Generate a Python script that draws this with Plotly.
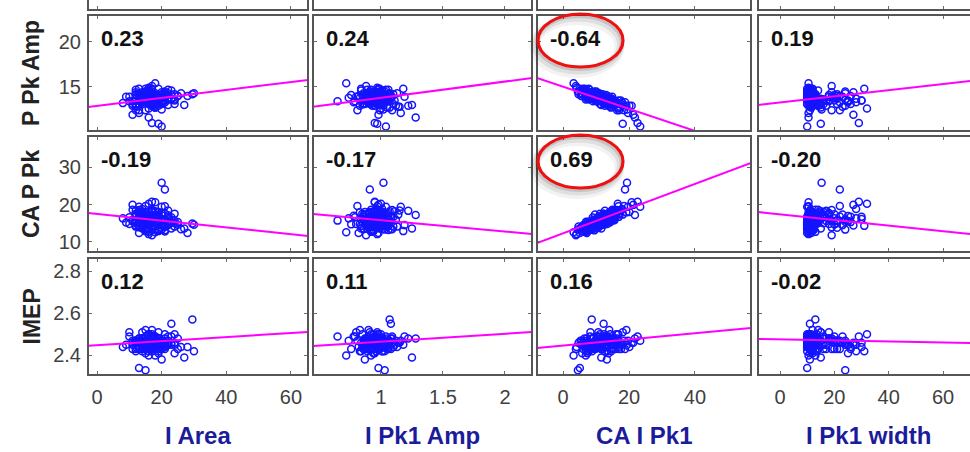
import plotly.graph_objects as go

# ---------------------------------------------------------------- data
x_names = ["I Area", "I Pk1 Amp", "CA I Pk1", "I Pk1 width"]
y_names = ["P Pk Amp", "CA P Pk", "IMEP"]

# one value per engine cycle
i_area = [
    22, 13, 18, 16, 11, 29.5, 24, 14, 19, 10,
    15, 20, 12, 17, 25, 9, 18, 13, 21, 16,
    12, 23, 15, 19, 14, 20, 11, 26, 17, 15,
    18, 11, 21, 16, 24, 13, 19, 17, 22, 12,
    23, 16, 19, 14, 17, 21, 10, 18, 21, 13,
    19, 14, 22, 16, 8, 17, 13, 20, 15, 27,
    17, 12, 15, 21, 14, 18, 24, 20, 28, 16,
    13, 19, 16, 14, 19, 22, 17, 11, 15, 18,
    20, 15, 12, 18, 23, 16, 14, 25, 20, 17,
    14, 21, 17, 15, 12, 19, 16, 24, 13, 30,
    15, 19, 13, 17, 21, 14, 18, 12, 20, 16,
    18, 14, 16, 22, 13, 19, 15, 17, 20, 12,
    16, 21, 14, 18, 15, 13, 19, 17, 23, 14,
    20, 13, 17, 15, 18, 16, 12, 21, 14, 19,
    13, 17, 19, 16, 14, 22, 18, 15, 17, 20,
    17, 15, 12, 19, 21, 14, 16, 18, 13, 22,
]
i_pk1_amp = [
    0.92, 1.05, 0.88, 0.97, 1.12, 1.07, 0.85, 1.01, 0.94, 0.79,
    0.99, 0.90, 1.15, 0.83, 0.96, 1.03, 0.72, 1.09, 0.93, 0.87,
    1.01, 0.95, 0.81, 1.18, 0.91, 1.06, 0.98, 0.86, 1.22, 0.94,
    0.89, 1.04, 0.97, 0.76, 1.10, 0.93, 1.02, 0.84, 0.99, 1.14,
    1.08, 0.92, 0.87, 1.00, 0.95, 1.13, 0.80, 1.05, 0.91, 0.98,
    0.96, 0.83, 1.07, 0.94, 1.01, 0.88, 1.16, 0.97, 0.90, 1.25,
    1.03, 0.86, 0.99, 0.91, 1.11, 0.65, 0.95, 1.04, 0.82, 1.00,
    0.93, 1.08, 0.89, 1.02, 0.97, 0.74, 1.06, 0.92, 1.19, 0.95,
    0.87, 1.00, 0.94, 1.10, 0.84, 0.98, 1.05, 0.90, 1.02, 0.96,
    1.06, 0.91, 0.78, 1.03, 0.99, 0.95, 1.28, 1.00, 0.88, 1.01,
    0.95, 0.88, 1.02, 0.91, 0.98, 1.06, 0.86, 0.99, 0.93, 1.04,
    0.90, 0.97, 1.01, 0.87, 0.94, 1.08, 0.96, 0.92, 1.00, 0.85,
    0.98, 0.93, 0.89, 1.05, 0.96, 0.91, 1.03, 0.97, 0.88, 0.99,
    1.02, 0.94, 0.90, 0.97, 1.07, 0.86, 0.95, 1.00, 0.92, 1.04,
    0.91, 1.01, 0.96, 0.89, 0.99, 0.94, 1.09, 0.87, 0.97, 0.93,
    0.97, 0.92, 1.04, 0.95, 0.88, 1.00, 0.93, 1.06, 0.90, 0.98,
]
ca_i_pk1 = [
    6.2, 9.8, 12.5, 4.1, 15.3, 8.7, 11.2, 17.9, 7.4, 13.6,
    10.1, 5.3, 14.8, 19.2, 8.1, 12.0, 3.2, 16.4, 9.5, 11.8,
    7.0, 13.1, 18.5, 6.6, 10.7, 15.9, 21.3, 8.9, 12.7, 5.8,
    14.2, 9.1, 16.8, 11.5, 4.7, 13.9, 20.1, 7.8, 10.4, 17.2,
    12.3, 6.9, 15.1, 9.7, 22.6, 11.0, 8.3, 14.5, 18.8, 5.1,
    10.9, 13.4, 7.6, 16.1, 12.9, 3.9, 19.7, 9.3, 14.0, 11.6,
    8.5, 15.6, 6.1, 12.2, 17.5, 10.3, 13.8, 23.4, 7.2, 16.6,
    11.4, 9.0, 14.6, 5.5, 18.1, 12.6, 8.0, 15.0, 10.6, 20.8,
    13.3, 7.9, 11.9, 16.9, 6.4, 14.3, 9.6, 12.1, 19.4, 8.8,
    15.4, 10.0, 13.0, 4.5, 17.0, 11.3, 21.8, 9.2, 14.9, 7.5,
    8.0, 11.0, 13.5, 9.5, 12.0, 6.8, 14.5, 10.5, 7.5, 12.8,
    9.9, 13.0, 7.2, 11.7, 15.0, 8.6, 10.8, 12.4, 16.2, 9.0,
    11.3, 6.0, 13.8, 10.2, 8.4, 14.1, 12.6, 5.6, 11.1, 15.7,
    7.7, 10.6, 12.9, 9.4, 16.8, 11.8, 8.9, 13.4, 6.5, 10.0,
    12.2, 9.1, 14.9, 7.0, 11.5, 13.2, 8.2, 10.4, 17.6, 12.5,
    9.7, 11.9, 6.3, 14.4, 10.9, 8.7, 13.6, 12.0, 7.9, 15.5,
]
i_pk1_width = [
    11, 12, 18, 10.5, 24, 13, 11.5, 28, 12, 16,
    10, 21, 11, 14, 26, 12.5, 10.5, 19, 11, 30,
    13, 10, 22, 11.5, 15, 12, 27, 10, 17, 11,
    12, 25, 10.5, 20, 11, 14, 12, 31, 10, 23,
    11, 13, 16, 10.5, 29, 12, 18, 11.5, 22, 10,
    14, 10, 24, 11, 12.5, 19, 10.5, 27, 12, 15,
    10.5, 21, 12, 11, 17, 13, 25, 10, 11.5, 32,
    12, 11, 28, 10, 15, 20, 11.5, 13, 23, 10.5,
    11, 16, 10.5, 26, 12, 13.5, 21, 10, 15.3, 11.5,
    18, 10, 12.5, 24, 11, 30, 10.5, 14, 19, 12,
    10.5, 11, 12, 10, 13, 11.5, 16, 10.5, 12.5, 20,
    11, 10, 14, 11.5, 10.5, 12, 22, 10, 13, 11,
    12, 10.5, 11, 18, 10, 11.5, 13.5, 10.5, 24, 12,
    10, 12.5, 11, 10.5, 15, 11, 10, 12, 19, 10.5,
    11.5, 10, 13, 10.5, 21, 11, 12, 10, 14, 11.5,
    10.5, 17, 11, 12, 10, 11.5, 25, 10.5, 12.5, 11,
]
p_pk_amp = [
    14.7, 13.5, 14.1, 14.9, 12.9, 14.2, 13.1, 13.3, 14.0, 13.4,
    14.5, 14.2, 12.8, 12.9, 14.0, 13.9, 15.4, 12.4, 14.5, 13.5,
    13.8, 14.1, 12.4, 14.8, 13.7, 13.4, 11.9, 14.3, 12.9, 14.2,
    13.6, 13.4, 13.5, 14.1, 14.2, 12.9, 12.9, 14.8, 13.6, 12.8,
    13.7, 13.6, 13.6, 14.1, 11.0, 14.3, 13.9, 12.7, 13.3, 14.8,
    13.4, 13.8, 14.3, 13.3, 13.2, 15.1, 12.1, 14.4, 13.9, 13.0,
    13.8, 13.1, 14.8, 13.8, 13.5, 13.4, 13.5, 10.6, 14.0, 12.6,
    14.0, 13.9, 13.7, 14.0, 10.9, 13.8, 14.7, 13.1, 13.9, 12.9,
    13.1, 13.6, 14.2, 13.1, 14.6, 13.2, 13.7, 14.0, 12.5, 14.4,
    13.5, 14.1, 13.3, 14.5, 12.4, 13.5, 11.6, 13.6, 13.9, 14.3,
    14.4, 13.5, 13.6, 13.6, 14.0, 14.2, 13.1, 14.1, 13.7, 13.5,
    14.3, 13.1, 14.6, 13.6, 13.6, 13.8, 14.0, 13.1, 13.1, 14.1,
    14.2, 14.2, 13.6, 13.4, 14.4, 13.1, 13.7, 14.7, 13.6, 13.4,
    13.8, 13.9, 13.8, 13.9, 12.7, 13.9, 14.4, 13.3, 14.4, 13.6,
    13.5, 14.2, 13.2, 14.7, 14.0, 13.7, 13.9, 13.5, 13.1, 13.3,
    13.9, 13.5, 14.7, 13.6, 13.9, 13.7, 13.3, 13.9, 14.3, 13.0,
]
ca_p_pk = [
    14.5, 14.1, 17.3, 12.1, 15.9, 14.9, 17.5, 18.8, 13.1, 16.6,
    13.6, 13.8, 18.4, 17.9, 15.3, 15.2, 12.6, 18.5, 13.1, 16.1,
    15.4, 15.2, 19.6, 12.9, 16.1, 17.1, 19.9, 13.4, 18.3, 12.9,
    15.2, 15.5, 19.5, 14.7, 14.1, 17.1, 18.0, 14.3, 14.8, 17.3,
    16.6, 12.7, 18.0, 17.3, 20.7, 14.1, 14.8, 16.6, 24.0, 12.4,
    15.7, 14.8, 15.4, 18.2, 16.3, 11.8, 19.4, 14.4, 17.7, 13.6,
    14.2, 15.8, 13.7, 17.6, 18.2, 15.7, 15.6, 19.4, 12.4, 20.2,
    16.5, 16.5, 16.3, 13.6, 17.3, 16.3, 13.2, 18.6, 14.5, 20.6,
    15.9, 15.0, 16.8, 16.7, 13.6, 17.3, 15.0, 14.6, 25.8, 14.1,
    17.7, 14.1, 17.0, 13.3, 17.5, 16.7, 17.2, 15.0, 15.7, 14.6,
    15.0, 14.8, 17.4, 15.1, 14.7, 14.2, 17.2, 15.0, 13.3, 17.4,
    14.1, 16.8, 15.1, 15.3, 17.9, 13.4, 16.8, 15.7, 17.7, 15.3,
    15.7, 12.8, 15.3, 16.2, 14.4, 18.0, 15.2, 13.8, 15.9, 16.4,
    15.0, 13.9, 16.6, 15.4, 18.2, 16.7, 14.1, 15.8, 13.9, 15.2,
    16.5, 15.9, 16.6, 13.5, 15.7, 17.1, 13.4, 15.9, 18.6, 14.6,
    15.3, 15.6, 14.4, 17.0, 14.4, 15.6, 16.9, 15.1, 14.5, 18.4,
]
imep = [
    2.46, 2.43, 2.48, 2.44, 2.47, 2.57, 2.50, 2.45, 2.41, 2.49,
    2.44, 2.47, 2.46, 2.52, 2.43, 2.45, 2.40, 2.48, 2.46, 2.44,
    2.42, 2.49, 2.47, 2.45, 2.51, 2.43, 2.46, 2.44, 2.48, 2.41,
    2.47, 2.45, 2.50, 2.43, 2.46, 2.48, 2.44, 2.42, 2.49, 2.46,
    2.55, 2.40, 2.48, 2.47, 2.49, 2.44, 2.51, 2.46, 2.43, 2.34,
    2.48, 2.42, 2.46, 2.50, 2.44, 2.43, 2.47, 2.45, 2.52, 2.39,
    2.44, 2.47, 2.43, 2.46, 2.45, 2.49, 2.41, 2.47, 2.44, 2.50,
    2.46, 2.48, 2.42, 2.45, 2.51, 2.47, 2.44, 2.43, 2.49, 2.46,
    2.38, 2.45, 2.47, 2.44, 2.46, 2.50, 2.43, 2.48, 2.45, 2.42,
    2.47, 2.44, 2.49, 2.33, 2.43, 2.46, 2.48, 2.45, 2.47, 2.42,
    2.45, 2.47, 2.44, 2.46, 2.48, 2.45, 2.43, 2.47, 2.46, 2.49,
    2.46, 2.44, 2.48, 2.45, 2.47, 2.43, 2.46, 2.50, 2.45, 2.44,
    2.47, 2.45, 2.46, 2.48, 2.44, 2.46, 2.42, 2.47, 2.45, 2.48,
    2.44, 2.46, 2.49, 2.45, 2.47, 2.43, 2.46, 2.45, 2.48, 2.44,
    2.46, 2.48, 2.45, 2.44, 2.47, 2.45, 2.49, 2.46, 2.43, 2.47,
    2.45, 2.43, 2.47, 2.46, 2.44, 2.48, 2.45, 2.47, 2.46, 2.45,
]

x_data = [i_area, i_pk1_amp, ca_i_pk1, i_pk1_width]
y_data = [p_pk_amp, ca_p_pk, imep]

# correlation coefficients printed in each panel
r_values = [
    [0.23, 0.24, -0.64, 0.19],
    [-0.19, -0.17, 0.69, -0.20],
    [0.12, 0.11, 0.16, -0.02],
]
# least-squares fit (y = intercept + slope * x) for each panel
fit_slope = [
    [0.044, 1.82, -0.123, 0.0342],
    [-0.090, -3.02, 0.329, -0.0753],
    [0.000955, 0.0374, 0.00146, -0.00024],
]
fit_intercept = [
    [12.90, 11.96, 15.03, 13.28],
    [17.48, 18.84, 12.33, 17.39],
    [2.449, 2.428, 2.447, 2.476],
]
# panels whose coefficient is circled
highlighted = [(0, 2), (1, 2)]

x_ranges = [[-2.8, 65.3], [0.452, 2.218], [-7.9, 57.0], [-8.1, 69.9]]
y_ranges = [[10.1, 23.0], [7.33, 38.27], [2.307, 2.862]]
x_tickvals = [[0, 20, 40, 60], [1, 1.5, 2], [0, 20, 40], [0, 20, 40, 60]]
x_ticktext = [["0", "20", "40", "60"], ["1", "1.5", "2"], ["0", "20", "40"], ["0", "20", "40", "60"]]
y_tickvals = [[15, 20], [10, 20, 30], [2.4, 2.6, 2.8]]
y_ticktext = [["15", "20"], ["10", "20", "30"], ["2.4", "2.6", "2.8"]]

# ---------------------------------------------------------------- layout geometry (pixels)
W, H = 970, 452
col_px = [(88, 308), (313, 532), (537, 751), (758, 978)]
row_px = [(15, 131), (136, 252), (258, 375)]
top_strip_bottom = 10  # lower edge of the row above, which is mostly off-page

FONT = "Liberation Sans, Arial, Helvetica, sans-serif"
BORDER = "#555555"
TICK = "#6a6a6a"
POINT = "#1414ff"
FIT = "#ff00ff"
TITLE_BLUE = "#1c1c9a"


def fx(px):
    return px / W


def fy(py):
    return 1 - py / H


fig = go.Figure()
shapes = []
annotations = []

for r in range(3):
    for c in range(4):
        k = r * 4 + c + 1
        xa = "x" if k == 1 else f"x{k}"
        ya = "y" if k == 1 else f"y{k}"
        x0p, x1p = col_px[c]
        y0p, y1p = row_px[r]

        fig.add_trace(go.Scatter(
            x=x_data[c], y=y_data[r], mode="markers", xaxis=xa, yaxis=ya,
            marker=dict(symbol="circle-open", size=7, color=POINT,
                        line=dict(width=1.5, color=POINT)),
            hoverinfo="skip", showlegend=False,
        ))
        xr = x_ranges[c]
        fig.add_trace(go.Scatter(
            x=xr,
            y=[fit_intercept[r][c] + fit_slope[r][c] * xv for xv in xr],
            mode="lines", xaxis=xa, yaxis=ya,
            line=dict(color=FIT, width=2),
            hoverinfo="skip", showlegend=False,
        ))

        dom_x = [fx(x0p), min(1.0, fx(x1p))]
        dom_y = [fy(y1p), fy(y0p)]
        fig.layout[f"xaxis{k}"] = dict(
            domain=dom_x, anchor=ya, range=xr, tickvals=x_tickvals[c],
            ticktext=x_ticktext[c], showticklabels=(r == 2),
            ticks="inside", ticklen=4, tickcolor=TICK, mirror="ticks",
            showline=False, showgrid=False, zeroline=False,
            tickfont=dict(family=FONT, size=20, color="#3f3f3f"),
            ticklabelstandoff=8,
        )
        fig.layout[f"yaxis{k}"] = dict(
            domain=dom_y, anchor=xa, range=y_ranges[r], tickvals=y_tickvals[r],
            ticktext=y_ticktext[r], showticklabels=(c == 0),
            ticks="inside", ticklen=4, tickcolor=TICK,
            mirror=("ticks" if c < 3 else False),
            showline=False, showgrid=False, zeroline=False,
            tickfont=dict(family=FONT, size=20, color="#3f3f3f"),
            ticklabelstandoff=6,
        )

        shapes.append(dict(type="rect", xref="paper", yref="paper",
                           x0=fx(x0p), x1=fx(x1p), y0=fy(y1p), y1=fy(y0p),
                           line=dict(color=BORDER, width=2), layer="above"))

        annotations.append(dict(
            text=f"<b>{r_values[r][c]:.2f}</b>", xref="paper", yref="paper",
            x=fx(x0p + 11), y=fy(y0p + 23), xanchor="left", yanchor="middle",
            showarrow=False, font=dict(family=FONT, size=22, color="#111111"),
        ))

# the row above is cut by the page edge: only its lower border and ticks show
for c in range(4):
    k = 12 + c + 1
    x0p, x1p = col_px[c]
    fig.layout[f"xaxis{k}"] = dict(
        domain=[fx(x0p), min(1.0, fx(x1p))], anchor=f"y{k}", range=x_ranges[c],
        tickvals=x_tickvals[c], showticklabels=False, ticks="inside", ticklen=4,
        tickcolor=TICK, showline=False, showgrid=False, zeroline=False,
    )
    fig.layout[f"yaxis{k}"] = dict(
        domain=[fy(top_strip_bottom), 1.0], anchor=f"x{k}", range=[0, 1],
        visible=False,
    )
    fig.add_trace(go.Scatter(x=[None], y=[None], xaxis=f"x{k}", yaxis=f"y{k}",
                             showlegend=False, hoverinfo="skip"))
    shapes.append(dict(type="rect", xref="paper", yref="paper",
                       x0=fx(x0p), x1=fx(x1p), y0=fy(top_strip_bottom), y1=fy(-60),
                       line=dict(color=BORDER, width=2), layer="above"))

# red rings around the strongest coefficients, with a soft drop shadow
for (r, c) in highlighted:
    x0p = col_px[c][0] + 1
    y0p = row_px[r][0]
    ex0, ex1 = x0p, x0p + 85
    ey0, ey1 = y0p - 1, y0p + 52
    for off, wid, alpha in [(6, 10, 0.05), (4, 7, 0.08), (2, 4, 0.12)]:
        shapes.append(dict(type="circle", xref="paper", yref="paper",
                           x0=fx(ex0 - off * 0.6), x1=fx(ex1 - off * 0.6),
                           y0=fy(ey1 + off), y1=fy(ey0 + off),
                           line=dict(color=f"rgba(0,0,0,{alpha})", width=wid),
                           layer="above"))
    shapes.append(dict(type="circle", xref="paper", yref="paper",
                       x0=fx(ex0), x1=fx(ex1), y0=fy(ey1), y1=fy(ey0),
                       line=dict(color="#ee1111", width=3.2), layer="above"))

# axis titles
for c, name in enumerate(x_names):
    x0p, x1p = col_px[c]
    annotations.append(dict(
        text=f"<b>{name}</b>", xref="paper", yref="paper",
        x=fx((x0p + x1p) / 2), y=fy(435), xanchor="center", yanchor="middle",
        showarrow=False, font=dict(family=FONT, size=24, color=TITLE_BLUE),
    ))
for r, name in enumerate(y_names):
    y0p, y1p = row_px[r]
    annotations.append(dict(
        text=f"<b>{name}</b>", xref="paper", yref="paper",
        x=fx(31), y=fy((y0p + y1p) / 2), xanchor="center", yanchor="middle",
        textangle=-90, showarrow=False,
        font=dict(family=FONT, size=23, color="#222222"),
    ))

fig.update_layout(
    width=W, height=H, margin=dict(l=0, r=0, t=0, b=0),
    paper_bgcolor="white", plot_bgcolor="white",
    shapes=shapes, annotations=annotations, showlegend=False,
)

fig.write_html("out.html")
